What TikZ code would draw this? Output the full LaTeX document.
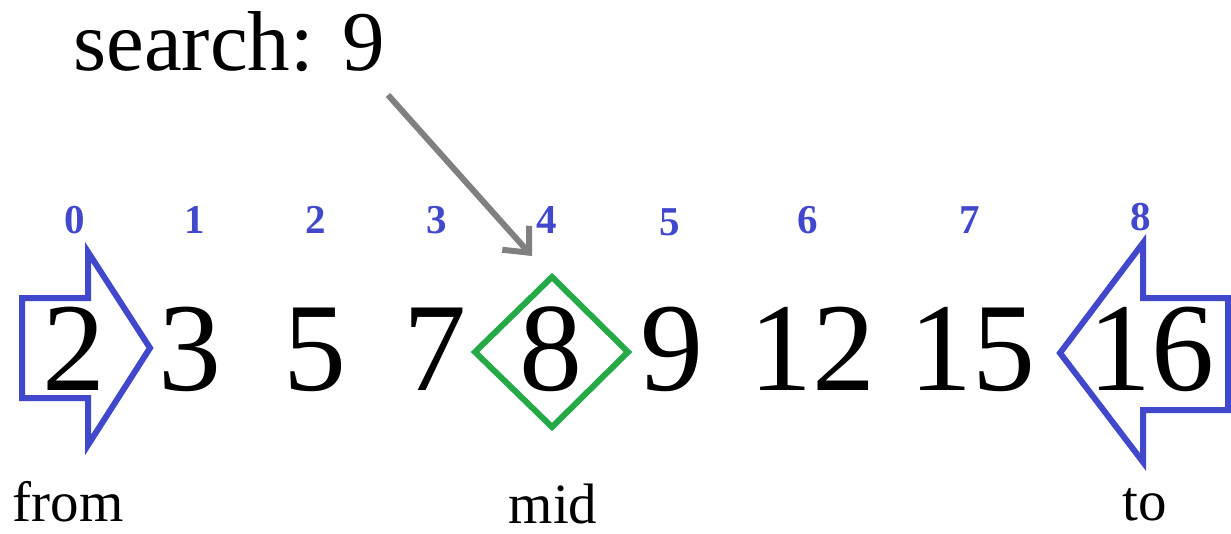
\documentclass[tikz,border=0pt]{standalone}
\usepackage{fontspec}
\setmainfont{Liberation Serif}
\usepackage{xcolor}
\usepackage{tikz}
\usetikzlibrary{arrows.meta, calc}

\definecolor{ptrblue}{RGB}{66,72,204}
\definecolor{midgreen}{RGB}{38,170,72}
\definecolor{ptrgray}{RGB}{128,128,128}

\begin{document}
\begin{tikzpicture}[
    x=1pt, y=-1pt,
    num/.style={
        anchor=base,
        inner sep=0pt,
        font=\fontsize{126}{126}\selectfont
    },
    idx/.style={
        inner sep=0pt,
        text=ptrblue,
        font=\fontsize{41}{41}\selectfont\bfseries
    },
    word/.style={
        anchor=base,
        inner sep=0pt,
        font=\fontsize{57}{57}\selectfont
    },
    ptrarrow/.style={
        draw=ptrblue,
        line width=6pt,
        line join=miter
    },
    midmark/.style={
        draw=midgreen,
        line width=6pt,
        line join=miter
    },
    garrow/.style={-{Straight Barb[length=20pt, width=36pt]}, line width=6pt, color=ptrgray}
]

% fix the page size
\useasboundingbox (0,0) rectangle (1231,533);

% === TITLE ===
\node (search) [anchor=base west, inner sep=0pt, font=\fontsize{85}{85}\selectfont] at (73,70) {search: 9};

% === ARRAY VALUES ===
\node (v0) [num] at (74,390) {2};
\node (v1) [num] at (190,390) {3};
\node (v2) [num] at (315,390) {5};
\node (v3) [num] at (435,390) {7};
\node (v4) [num] at (551,390) {8};
\node (v5) [num] at (672,390) {9};
\node (v6) [num] at (812,390) {12};
\node (v7) [num] at (972,390) {15};
\node (v8) [num] at (1151,390) {16};

% === INDICES ===
\node (i0) [idx] at (75,220) {0};
\node (i1) [idx] at (195,220) {1};
\node (i2) [idx] at (316,220) {2};
\node (i3) [idx] at (437,220) {3};
\node (i4) [idx] at (547,220) {4};
\node (i5) [idx] at (670,222) {5};
\node (i6) [idx] at (808,220) {6};
\node (i7) [idx] at (970,220) {7};
\node (i8) [idx] at (1141,217) {8};

% === POINTERS ===
% from: arrow pointing right
\draw [ptrarrow] (22,298) -- (88,298) -- (88,252) -- (150,348) -- (88,445) -- (88,398) -- (22,398) -- cycle;
% to: arrow pointing left
\draw [ptrarrow] (1060,353) -- (1143,243) -- (1143,298) -- (1228,298) -- (1228,410) -- (1143,410) -- (1143,462) -- cycle;
% mid: diamond
\draw [midmark] (552,277) -- (628,352) -- (552,427) -- (475,352) -- cycle;

\node (from) [word] at (68,521) {from};
\node (mid) [word] at (553,523) {mid};
\node (to) [word] at (1145,520) {to};

% === SEARCH ARROW ===
\coordinate (ptrtail) at (388,95);
\coordinate (ptrtip) at (532,256);
\draw [garrow] (ptrtail) -- (ptrtip);

\end{tikzpicture}
\end{document}
